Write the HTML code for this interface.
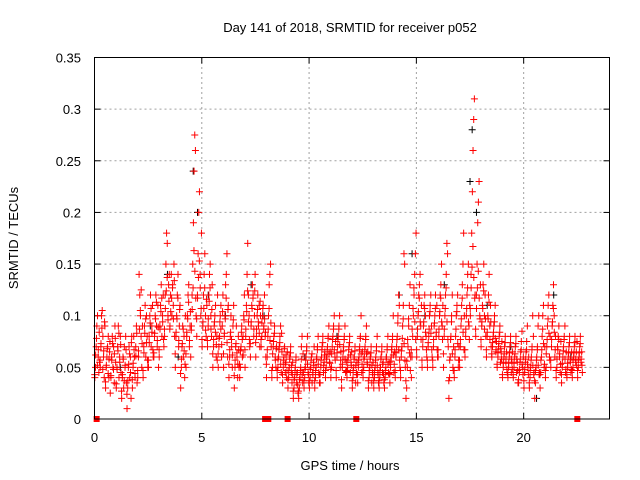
<!DOCTYPE html>
<html><head><meta charset="utf-8"><style>
html,body{margin:0;padding:0;background:#fff;}
svg{display:block;font-family:"Liberation Sans",sans-serif;}
</style></head><body>
<svg id="chart" width="640" height="480">
<text x="350" y="32" font-size="13" text-anchor="middle">Day 141 of 2018, SRMTID for receiver p052</text>
<text x="350" y="470" font-size="13" text-anchor="middle">GPS time / hours</text>
<text transform="translate(18,238) rotate(-90)" font-size="13" text-anchor="middle">SRMTID / TECUs</text>
<g id="grid"></g>
<g id="ticks"></g>
<g id="black"></g>
<g id="red"></g>
<rect x="94.5" y="57.5" width="515" height="361.5" fill="none" stroke="#000" stroke-width="1"/>
</svg>
<script>
const xTicks=[0,5,10,15,20];
const yTicks=[0,0.05,0.1,0.15,0.2,0.25,0.3,0.35];
const yTickLabels=["0","0.05","0.1","0.15","0.2","0.25","0.3","0.35"];
const bucketWidth=0.25;
const redValues=[
[.04,.05,.07,.09,.1,.06,.045,.055],[.05,.07,.1,.105,.08,.06,.04,.09],[.03,.05,.06,.07,.08,.04,.065,.025],[.04,.06,.08,.05,.07,.035,.09,.055],
[.03,.05,.07,.09,.04,.06,.08,.045],[.02,.04,.06,.03,.07,.05,.08,.035],[.01,.03,.05,.07,.04,.06,.02,.08],[.03,.05,.08,.06,.04,.07,.09,.035],
[.04,.06,.14,.12,.1,.08,.05,.09],[.04,.07,.09,.11,.06,.1,.08,.05],[.05,.08,.1,.12,.07,.09,.11,.06],[.06,.08,.1,.12,.09,.07,.11,.05],
[.06,.09,.11,.13,.08,.1,.12,.07],[.08,.12,.15,.18,.17,.1,.13,.14],[.09,.12,.14,.1,.13,.11,.15,.08],[.05,.08,.1,.12,.14,.07,.09,.11],
[.03,.05,.07,.09,.06,.08,.04,.1],[.05,.08,.1,.12,.13,.07,.09,.06],[.09,.12,.15,.19,.24,.275,.26,.1],[.08,.12,.16,.2,.22,.14,.1,.18],
[.07,.09,.12,.14,.16,.1,.08,.11],[.07,.09,.12,.14,.15,.1,.08,.13],[.05,.07,.09,.1,.11,.06,.08,.12],[.05,.07,.08,.1,.11,.06,.09,.12],
[.05,.08,.1,.13,.14,.16,.06,.11],[.04,.06,.08,.1,.07,.05,.09,.11],[.03,.05,.07,.09,.06,.04,.08,.05],[.04,.05,.07,.09,.06,.08,.1,.12],
[.05,.08,.11,.14,.17,.12,.1,.07],[.06,.09,.11,.13,.12,.08,.1,.14],[.06,.08,.1,.12,.09,.11,.07,.1],[.07,.08,.1,.11,.09,.12,.08,.06],
[.04,.06,.08,.1,.13,.14,.15,.07],[.04,.05,.07,.08,.09,.06,.05,.07],[.04,.05,.06,.07,.08,.09,.045,.065],[.035,.05,.06,.07,.045,.055,.04,.065],
[.03,.04,.05,.06,.07,.045,.035,.055],[.02,.03,.04,.05,.06,.035,.045,.025],[.02,.03,.04,.05,.07,.08,.035,.045],[.03,.04,.05,.06,.07,.08,.045,.035],
[.03,.04,.05,.06,.035,.045,.055,.07],[.03,.04,.05,.06,.07,.08,.045,.035],[.035,.05,.06,.07,.08,.045,.055,.065],[.04,.05,.06,.07,.08,.09,.055,.065],
[.04,.05,.07,.08,.09,.1,.06,.075],[.04,.06,.07,.08,.09,.1,.05,.065],[.03,.05,.06,.07,.08,.09,.045,.055],[.04,.05,.06,.07,.08,.045,.055,.065],
[.03,.04,.05,.06,.07,.035,.045,.055],[.035,.05,.06,.07,.08,.1,.045,.065],[.04,.05,.06,.07,.08,.09,.055,.065],[.03,.04,.05,.06,.07,.035,.045,.055],
[.03,.04,.05,.06,.07,.08,.045,.035],[.03,.04,.05,.06,.07,.045,.055,.035],[.03,.04,.05,.06,.07,.08,.045,.055],[.035,.05,.06,.07,.08,.1,.045,.065],
[.04,.06,.07,.08,.1,.12,.11,.05],[.04,.06,.07,.09,.11,.16,.15,.05],[.02,.03,.05,.07,.09,.11,.13,.06],[.04,.06,.08,.1,.12,.14,.16,.18],
[.06,.08,.1,.12,.13,.14,.09,.11],[.05,.07,.09,.11,.12,.1,.08,.06],[.05,.07,.08,.1,.11,.12,.09,.06],[.05,.07,.09,.1,.12,.08,.11,.06],
[.06,.08,.1,.12,.13,.15,.09,.11],[.05,.08,.1,.12,.14,.17,.16,.07],[.02,.04,.06,.08,.1,.12,.05,.07],[.04,.06,.08,.1,.11,.12,.05,.07],
[.05,.07,.09,.11,.13,.15,.18,.1],[.06,.08,.1,.12,.14,.15,.09,.11],[.1,.14,.18,.22,.26,.29,.31,.12],[.08,.12,.15,.19,.21,.23,.1,.13],
[.07,.09,.11,.13,.15,.1,.12,.08],[.06,.08,.1,.12,.14,.09,.11,.07],[.06,.07,.08,.09,.1,.11,.065,.075],[.05,.06,.07,.08,.09,.055,.065,.075],
[.04,.05,.06,.07,.08,.055,.065,.045],[.04,.05,.06,.07,.08,.045,.055,.065],[.04,.05,.06,.07,.08,.045,.055,.035],[.035,.045,.055,.065,.075,.085,.05,.06],
[.03,.045,.055,.065,.075,.09,.05,.06],[.03,.04,.05,.06,.07,.1,.08,.045],[.02,.035,.05,.06,.07,.09,.1,.045],[.03,.045,.06,.08,.1,.11,.05,.07],
[.04,.05,.07,.09,.11,.12,.06,.08],[.05,.07,.09,.11,.13,.1,.06,.08],[.04,.05,.07,.08,.09,.06,.045,.075],[.035,.05,.06,.07,.08,.09,.045,.065],
[.04,.05,.06,.07,.08,.055,.045,.065],[.04,.05,.06,.07,.08,.055,.065,.075],[.04,.05,.06,.07,.08,.055,.065,.045]
];
const redValues2=[
[.043,.062,.078,.052,.067,.084],[.057,.073,.088,.048,.066,.094],[.036,.052,.068,.044,.058,.075],[.042,.057,.073,.048,.063,.078],
[.034,.048,.066,.083,.055,.072],[.027,.043,.058,.037,.052,.067],[.024,.037,.053,.063,.045,.074],[.038,.054,.067,.044,.061,.083],
[.047,.066,.087,.105,.125,.073],[.047,.064,.083,.097,.074,.057],[.057,.074,.093,.107,.084,.067],[.064,.083,.097,.113,.076,.089],
[.067,.087,.104,.117,.094,.077],[.087,.107,.124,.137,.096,.114],[.087,.104,.117,.127,.097,.134],[.063,.084,.097,.117,.076,.106],
[.044,.058,.073,.087,.066,.053],[.063,.084,.097,.113,.076,.104],[.086,.106,.127,.163,.143,.117],[.097,.117,.137,.153,.127,.107],
[.077,.094,.107,.127,.086,.116],[.076,.097,.114,.127,.087,.106],[.063,.077,.094,.084,.072,.057],[.063,.078,.094,.087,.072,.104],
[.063,.083,.097,.117,.074,.106],[.053,.067,.084,.077,.062,.096],[.042,.057,.073,.064,.053,.067],[.053,.066,.084,.077,.062,.096],
[.067,.087,.104,.124,.094,.077],[.073,.094,.107,.117,.087,.124],[.074,.087,.106,.094,.083,.114],[.077,.093,.107,.087,.097,.084],
[.053,.067,.087,.107,.076,.093],[.047,.063,.075,.083,.057,.068],[.047,.058,.067,.074,.053,.083],[.043,.057,.068,.053,.062,.047],
[.038,.047,.058,.064,.052,.043],[.027,.038,.047,.057,.043,.033],[.027,.038,.047,.058,.043,.063],[.037,.048,.057,.066,.053,.043],
[.037,.048,.057,.063,.043,.052],[.037,.047,.058,.067,.053,.043],[.043,.057,.067,.074,.052,.062],[.047,.058,.067,.078,.063,.054],
[.048,.063,.077,.087,.067,.057],[.047,.064,.077,.087,.072,.057],[.038,.053,.066,.077,.058,.047],[.046,.057,.067,.074,.062,.052],
[.037,.047,.058,.066,.052,.043],[.043,.057,.067,.078,.063,.053],[.047,.058,.067,.077,.063,.053],[.037,.047,.058,.064,.052,.043],
[.037,.047,.057,.066,.052,.043],[.037,.047,.058,.065,.053,.043],[.038,.047,.058,.067,.053,.044],[.043,.056,.067,.077,.062,.053],
[.047,.064,.077,.093,.067,.057],[.047,.066,.078,.097,.073,.057],[.037,.056,.077,.097,.064,.047],[.067,.087,.107,.127,.094,.077],
[.067,.087,.104,.117,.094,.077],[.057,.077,.094,.107,.084,.067],[.057,.074,.087,.104,.083,.067],[.057,.077,.093,.107,.084,.067],
[.067,.087,.104,.117,.094,.077],[.063,.087,.107,.127,.094,.077],[.037,.057,.077,.094,.063,.047],[.047,.067,.087,.104,.073,.057],
[.057,.077,.097,.117,.084,.067],[.067,.087,.107,.127,.094,.077],[.107,.127,.147,.167,.137,.117],[.087,.107,.127,.143,.117,.097],
[.077,.094,.107,.124,.087,.097],[.067,.084,.097,.113,.077,.094],[.063,.074,.084,.094,.078,.067],[.053,.064,.073,.084,.068,.058],
[.043,.054,.063,.074,.058,.048],[.043,.054,.064,.074,.058,.048],[.043,.054,.063,.073,.058,.047],[.038,.048,.058,.067,.053,.043],
[.037,.048,.058,.067,.053,.043],[.035,.047,.057,.067,.052,.043],[.037,.047,.057,.067,.052,.043],[.043,.057,.067,.087,.073,.053],
[.047,.063,.077,.097,.083,.057],[.057,.077,.094,.107,.084,.067],[.047,.058,.067,.077,.063,.053],[.043,.054,.066,.077,.058,.048],
[.043,.054,.064,.074,.058,.048],[.047,.057,.064,.074,.058,.052],[.047,.057,.064,.073,.058,.052]
];
const blackHours=[1.2,2.6,3.4,3.9,4.6,4.8,5.3,6.1,7.3,7.9,9.8,11.3,13.6,14.2,14.8,15.4,16.3,17.5,17.6,17.8,18.3,19.4,20.6,21.4,22.2];
const blackValues=[0.05,0.09,0.14,0.06,0.24,0.2,0.12,0.1,0.13,0.1,0.06,0.08,0.06,0.12,0.16,0.1,0.13,0.23,0.28,0.2,0.11,0.07,0.02,0.12,0.06];
const zeroHours=[0.1,7.95,8.1,9.0,12.2,22.5];

const X0=94.5,X1=609.5,Y0=419,Y1=57.5,XMAX=24,YMAX=0.35;
const xs=h=>X0+h/XMAX*(X1-X0);
const ys=v=>Y0-v/YMAX*(Y0-Y1);
const NS="http://www.w3.org/2000/svg";
function mk(tag,attrs,parent){const e=document.createElementNS(NS,tag);for(const k in attrs)e.setAttribute(k,attrs[k]);parent.appendChild(e);return e;}
const grid=document.getElementById('grid'),ticks=document.getElementById('ticks');
xTicks.forEach(t=>{
  const x=xs(t);
  if(t>0){const g=mk('line',{x1:x,x2:x,y1:Y0,y2:Y1,stroke:'#a0a0a0','stroke-dasharray':'2,3'},grid);
  
  }
  mk('line',{x1:x,x2:x,y1:Y0,y2:Y0-6,stroke:'#000'},ticks);
  mk('line',{x1:x,x2:x,y1:Y1,y2:Y1+6,stroke:'#000'},ticks);
  const l=mk('text',{x:x,y:442,'font-size':13,'text-anchor':'middle'},ticks);l.textContent=t;
  
  
});
yTicks.forEach((t,i)=>{
  const y=ys(t);
  if(i>0&&i<yTicks.length-1){const g=mk('line',{x1:X0,x2:X1,y1:y,y2:y,stroke:'#a0a0a0','stroke-dasharray':'2,3'},grid);
  
  }
  mk('line',{x1:X0,x2:X0+6,y1:y,y2:y,stroke:'#000'},ticks);
  mk('line',{x1:X1,x2:X1-6,y1:y,y2:y,stroke:'#000'},ticks);
  const l=mk('text',{x:81,y:y+5,'font-size':13,'text-anchor':'end'},ticks);l.textContent=yTickLabels[i];
  
  
});
function plus(x,y,color,parent,name){
  const p=mk('path',{d:`M${x-3.5},${y}h7M${x},${y-3.5}v7`,stroke:color,'stroke-width':1,fill:'none'},parent);
  
  
}
const blk=document.getElementById('black'),red=document.getElementById('red');
blackHours.forEach((h,i)=>plus(xs(h),ys(blackValues[i]),'#000',blk,'black-point'));
function drawBuckets(vals,shift){
  vals.forEach((arr,b)=>{
    arr.forEach((v,k)=>{
      const h=b*bucketWidth+((k+shift)/arr.length)*bucketWidth;
      plus(xs(h),ys(v),'#f00',red,'red-point');
    });
  });
}
drawBuckets(redValues,0.5);
drawBuckets(redValues2,0.25);
zeroHours.forEach(h=>{
  const r=mk('rect',{x:xs(h)-3,y:Y0-3,width:6,height:6,fill:'#f00'},red);
  
  
});
</script>
</body></html>
